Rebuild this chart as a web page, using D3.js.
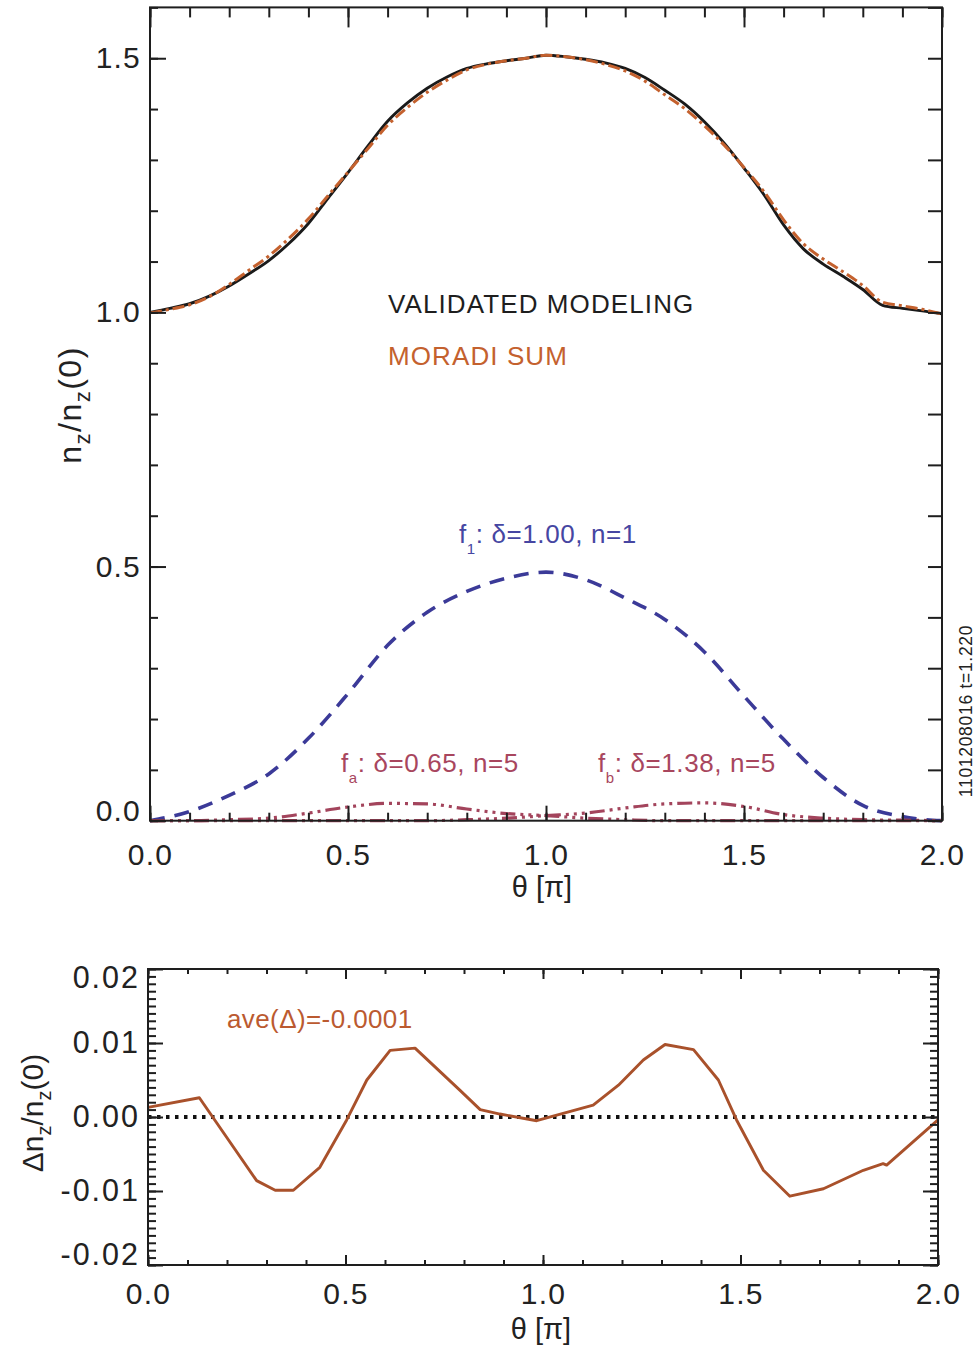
<!DOCTYPE html>
<html><head><meta charset="utf-8">
<script src="https://cdn.jsdelivr.net/npm/d3@7"></script>
<style>
body{margin:0;background:#fff}
svg{display:block}
text{font-family:"Liberation Sans",Arial,Helvetica,sans-serif}
</style>
</head><body>
<svg id="c" width="975" height="1353"></svg>
<script>
// ---------------- DATA ----------------
const theta = [0.00,0.05,0.10,0.15,0.20,0.25,0.30,0.35,0.40,0.45,0.50,0.55,0.60,0.65,0.70,0.75,0.80,0.85,0.90,0.95,1.00,
               1.05,1.10,1.15,1.20,1.25,1.30,1.35,1.40,1.45,1.50,1.55,1.60,1.65,1.70,1.75,1.80,1.85,1.90,1.95,2.00];
const validated = [1.000,1.008,1.017,1.032,1.052,1.076,1.102,1.135,1.175,1.225,1.275,1.327,1.376,1.412,1.441,1.463,1.480,1.489,1.495,1.500,1.506,
                   1.503,1.498,1.491,1.480,1.462,1.437,1.410,1.375,1.333,1.284,1.232,1.172,1.125,1.095,1.071,1.045,1.014,1.008,1.003,0.997];
const moradi = [0.999,1.006,1.015,1.031,1.055,1.083,1.111,1.145,1.184,1.230,1.276,1.322,1.368,1.403,1.433,1.457,1.477,1.488,1.495,1.500,1.506,
                1.503,1.497,1.488,1.475,1.455,1.428,1.401,1.367,1.329,1.285,1.238,1.182,1.135,1.105,1.080,1.053,1.020,1.013,1.006,0.997];

const thetaF = [0.0,0.1,0.2,0.3,0.4,0.5,0.6,0.7,0.8,0.9,1.0,1.1,1.2,1.3,1.4,1.5,1.6,1.7,1.8,1.9,2.0];
const f1 = [0.000,0.018,0.050,0.092,0.162,0.250,0.345,0.410,0.451,0.477,0.489,0.474,0.438,0.396,0.332,0.245,0.160,0.085,0.030,0.008,0.000];
const fa = [0.000,0.000,0.002,0.005,0.015,0.027,0.034,0.033,0.023,0.014,0.010,0.005,0.002,0.000,0.000,0.000,0.000,0.000,0.000,0.000,0.000];
const fb = [0.000,0.000,0.000,0.000,0.000,0.000,0.000,0.000,0.002,0.005,0.010,0.015,0.025,0.033,0.035,0.028,0.012,0.005,0.002,0.001,0.000];

const thetaD = [0.000,0.130,0.275,0.322,0.368,0.435,0.503,0.554,0.613,0.676,0.790,0.841,0.891,0.984,1.127,1.191,1.254,1.309,
                1.381,1.444,1.490,1.558,1.625,1.710,1.811,1.861,1.870,2.000];
const delta = [0.0013,0.0026,-0.0086,-0.0099,-0.0099,-0.0068,-0.0004,0.0050,0.0090,0.0093,0.0036,0.0010,0.0004,-0.0005,0.0016,0.0043,0.0077,0.0098,
               0.0091,0.0050,-0.0004,-0.0072,-0.0107,-0.0097,-0.0072,-0.0063,-0.0065,-0.0004];

const xTickValues = [0,0.5,1.0,1.5,2.0];
const xTickLabels = ["0.0","0.5","1.0","1.5","2.0"];
const topYTickValues = [0,0.5,1.0,1.5];
const topYTickLabels = ["0.0","0.5","1.0","1.5"];
const botYTickValues = [-0.02,-0.01,0,0.01,0.02];
const botYTickLabels = ["-0.02","-0.01","0.00","0.01","0.02"];

// ---------------- DRAW ----------------
const svg = d3.select("#c");
svg.append("rect").attr("width",975).attr("height",1353).attr("fill","#fff");
const AX = "#1e1e1e";

function tickAxis(g, gen, values, size, opts={}) {
  const a = gen.tickValues(values).tickSize(size).tickPadding(opts.padding||0);
  if (opts.labels) a.tickFormat((d,i)=>opts.labels[i]); else a.tickFormat("");
  const sel = g.append("g").attr("transform", opts.transform||null).call(a);
  sel.select(".domain").remove();
  sel.selectAll("line").attr("stroke",AX).attr("stroke-width",2);
  sel.selectAll("text").attr("fill","#222").attr("font-size",opts.fs||30)
     .attr("letter-spacing",opts.ls||1.2)
     .attr("font-family",'"Liberation Sans",Arial,sans-serif');
  return sel;
}

// ===== TOP PANEL =====
const x1 = d3.scaleLinear().domain([0,2]).range([150,942]);
const y1 = d3.scaleLinear().domain([0,1.6]).range([820.7,7.4]);
const gT = svg.append("g");

const minorX = d3.range(0,2.0001,0.1);
const minorYT = d3.range(0,1.6001,0.1);

const lineT = d3.line().x(d=>x1(d[0])).y(d=>y1(d[1])).curve(d3.curveMonotoneX);
const z = (a,b)=>a.map((t,i)=>[t,b[i]]);

gT.append("path").attr("d",lineT(z(thetaF,f1))).attr("fill","none")
  .attr("stroke","#3b3a98").attr("stroke-width",3.6).attr("stroke-dasharray","15,10");
gT.append("path").attr("d",lineT(z(thetaF,fa))).attr("fill","none")
  .attr("stroke","#a3445c").attr("stroke-width",3.2).attr("stroke-dasharray","15,5,3,5,3,5,3,5");
gT.append("path").attr("d",lineT(z(thetaF,fb))).attr("fill","none")
  .attr("stroke","#a3445c").attr("stroke-width",3.2).attr("stroke-dasharray","15,5,3,5,3,5,3,5");
gT.append("path").attr("d",lineT(z(theta,validated))).attr("fill","none")
  .attr("stroke","#1a1a1a").attr("stroke-width",2.9);
gT.append("path").attr("d",lineT(z(theta,moradi))).attr("fill","none")
  .attr("stroke","#c4612e").attr("stroke-width",3).attr("stroke-dasharray","12,4,3,4");

// frame
gT.append("rect").attr("x",x1(0)).attr("y",y1(1.6)).attr("width",x1(2)-x1(0)).attr("height",y1(0)-y1(1.6))
  .attr("fill","none").attr("stroke",AX).attr("stroke-width",2);
tickAxis(gT, d3.axisBottom(x1), minorX, -8, {transform:`translate(0,${y1(0)})`});
tickAxis(gT, d3.axisBottom(x1), xTickValues, -15, {transform:`translate(0,${y1(0)})`, labels:xTickLabels, padding:23});
tickAxis(gT, d3.axisTop(x1), minorX, -10, {transform:`translate(0,${y1(1.6)})`});
tickAxis(gT, d3.axisTop(x1), xTickValues, -20, {transform:`translate(0,${y1(1.6)})`});
tickAxis(gT, d3.axisLeft(y1), minorYT, -8, {transform:`translate(${x1(0)},0)`});
const lT = tickAxis(gT, d3.axisLeft(y1), topYTickValues, -16, {transform:`translate(${x1(0)},0)`, labels:topYTickLabels, padding:9});
lT.selectAll("text").filter(d=>d===0).attr("transform","translate(0,-10)");
tickAxis(gT, d3.axisRight(y1), minorYT, -14, {transform:`translate(${x1(2)},0)`});

// axis titles
gT.append("text").attr("x",(x1(0)+x1(2))/2 - 4).attr("y",897).attr("text-anchor","middle")
  .attr("font-size",29).attr("fill","#222").text("θ [π]");
const yt = gT.append("text").attr("transform","translate(81,405) rotate(-90)").attr("text-anchor","middle")
  .attr("font-size",32).attr("letter-spacing",1.5).attr("fill","#222");
yt.append("tspan").text("n");
yt.append("tspan").attr("font-size",22).attr("dy",9).text("z");
yt.append("tspan").attr("dy",-9).text("/n");
yt.append("tspan").attr("font-size",22).attr("dy",9).text("z");
yt.append("tspan").attr("dy",-9).text("(0)");

// legend / annotations
gT.append("text").attr("x",388).attr("y",313).attr("font-size",26).attr("letter-spacing",1.1)
  .attr("fill","#1e1e1e").text("VALIDATED MODELING");
gT.append("text").attr("x",388).attr("y",365).attr("font-size",26).attr("letter-spacing",1.1)
  .attr("fill","#c4612e").text("MORADI SUM");

function fLabel(xp, yp, sub, rest, color) {
  const t = gT.append("text").attr("x",xp).attr("y",yp).attr("font-size",26).attr("letter-spacing",0.6).attr("fill",color);
  t.append("tspan").text("f");
  t.append("tspan").attr("font-size",15).attr("dy",11).text(sub);
  t.append("tspan").attr("dy",-11).text(": " + rest);
}
fLabel(459, 543, "1", "δ=1.00, n=1", "#4646a2");
fLabel(341, 772, "a", "δ=0.65, n=5", "#a8465e");
fLabel(598, 772, "b", "δ=1.38, n=5", "#a8465e");

gT.append("text").attr("transform","translate(972,711) rotate(-90)").attr("text-anchor","middle")
  .attr("font-size",17.5).attr("letter-spacing",0.7).attr("fill","#222").text("1101208016 t=1.220");

// ===== BOTTOM PANEL =====
const x2 = d3.scaleLinear().domain([0,2]).range([148,938]);
const y2 = d3.scaleLinear().domain([-0.02,0.02]).range([1265,969]);
const gB = svg.append("g");
const minorYB = d3.range(-0.02,0.02001,0.001);

gB.append("line").attr("x1",x2(0)).attr("x2",x2(2)).attr("y1",y2(0)).attr("y2",y2(0))
  .attr("stroke","#111").attr("stroke-width",4).attr("stroke-dasharray","3.5,5.5");
gB.append("path").attr("d",d3.line().x(d=>x2(d[0])).y(d=>y2(d[1]))(z(thetaD,delta)))
  .attr("fill","none").attr("stroke","#a9512b").attr("stroke-width",2.9).attr("stroke-linejoin","round");

gB.append("rect").attr("x",x2(0)).attr("y",y2(0.02)).attr("width",x2(2)-x2(0)).attr("height",y2(-0.02)-y2(0.02))
  .attr("fill","none").attr("stroke",AX).attr("stroke-width",2);
tickAxis(gB, d3.axisBottom(x2), minorX, -5, {transform:`translate(0,${y2(-0.02)})`});
tickAxis(gB, d3.axisBottom(x2), xTickValues, -10, {transform:`translate(0,${y2(-0.02)})`, labels:xTickLabels, padding:18});
tickAxis(gB, d3.axisTop(x2), minorX, -5, {transform:`translate(0,${y2(0.02)})`});
tickAxis(gB, d3.axisTop(x2), xTickValues, -10, {transform:`translate(0,${y2(0.02)})`});
tickAxis(gB, d3.axisLeft(y2), minorYB, -8, {transform:`translate(${x2(0)},0)`});
const lB = tickAxis(gB, d3.axisLeft(y2), botYTickValues, -15, {transform:`translate(${x2(0)},0)`, labels:botYTickLabels, padding:8, fs:30.5, ls:2});
lB.selectAll("text").filter(d=>d===0.02).attr("transform","translate(0,9)");
lB.selectAll("text").filter(d=>d===-0.02).attr("transform","translate(0,-10)");
tickAxis(gB, d3.axisRight(y2), minorYB, -8, {transform:`translate(${x2(2)},0)`});
tickAxis(gB, d3.axisRight(y2), botYTickValues, -15, {transform:`translate(${x2(2)},0)`});

gB.append("text").attr("x",(x2(0)+x2(2))/2 - 2).attr("y",1339).attr("text-anchor","middle")
  .attr("font-size",29).attr("fill","#222").text("θ [π]");
const yb = gB.append("text").attr("transform","translate(43,1113) rotate(-90)").attr("text-anchor","middle")
  .attr("font-size",30).attr("fill","#222");
yb.append("tspan").text("Δn");
yb.append("tspan").attr("font-size",20).attr("dy",8).text("z");
yb.append("tspan").attr("dy",-8).text("/n");
yb.append("tspan").attr("font-size",20).attr("dy",8).text("z");
yb.append("tspan").attr("dy",-8).text("(0)");

gB.append("text").attr("x",227).attr("y",1028).attr("font-size",26).attr("letter-spacing",0.4)
  .attr("fill","#bb5a30").text("ave(Δ)=-0.0001");
</script>
</body></html>
